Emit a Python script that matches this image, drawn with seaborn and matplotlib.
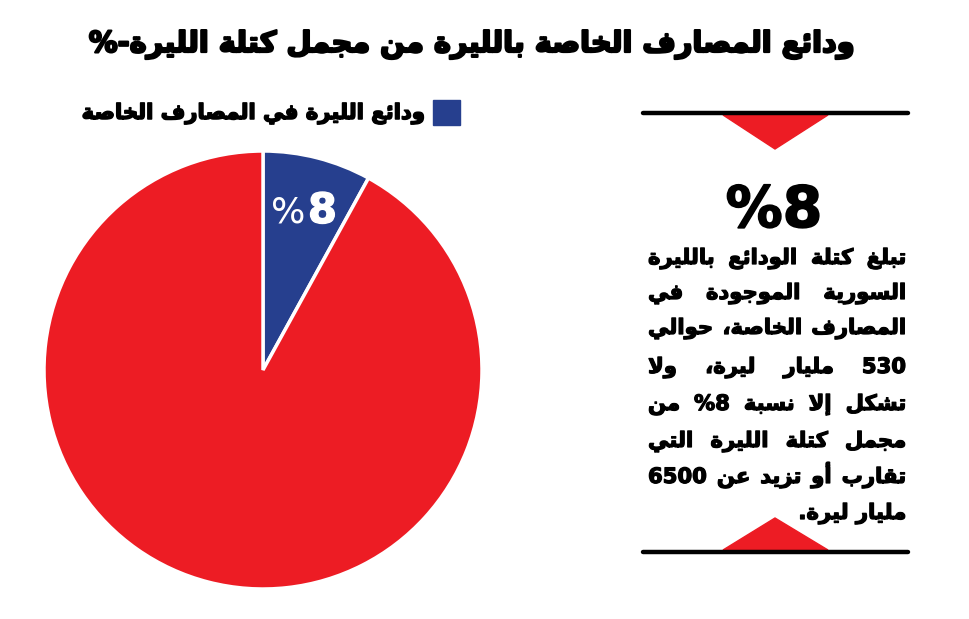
import re
import numpy as np
import pandas as pd
import matplotlib
matplotlib.use("Agg")
import matplotlib.pyplot as plt
import matplotlib.patheffects as pe
import seaborn as sns
from matplotlib.patches import Polygon

# ---------------- data ----------------
title = "ودائع المصارف الخاصة بالليرة من مجمل كتلة الليرة-%"
legend_label = "ودائع الليرة في المصارف الخاصة"
categories = ["ودائع الليرة في المصارف الخاصة", "باقي كتلة الليرة"]
shares = [8, 92]
slice_label_num = "8"
highlight = "8%"
body_lines = [
    "تبلغ كتلة الودائع بالليرة",
    "السورية الموجودة في",
    "المصارف الخاصة، حوالي",
    "530 مليار ليرة، ولا",
    "تشكل إلا نسبة 8% من",
    "مجمل كتلة الليرة التي",
    "تقارب أو تزيد عن 6500",
    "مليار ليرة.",
]

BLUE = "#263f8e"
RED = "#ed1c24"

# ---------------- minimal Arabic shaping + RTL ordering ----------------
DUAL = {'ئ': 0xFE89, 'ب': 0xFE8F, 'ت': 0xFE95, 'ث': 0xFE99, 'ج': 0xFE9D, 'ح': 0xFEA1,
        'خ': 0xFEA5, 'س': 0xFEB1, 'ش': 0xFEB5, 'ص': 0xFEB9, 'ض': 0xFEBD, 'ط': 0xFEC1,
        'ظ': 0xFEC5, 'ع': 0xFEC9, 'غ': 0xFECD, 'ف': 0xFED1, 'ق': 0xFED5, 'ك': 0xFED9,
        'ل': 0xFEDD, 'م': 0xFEE1, 'ن': 0xFEE5, 'ه': 0xFEE9, 'ي': 0xFEF1}
RIGHT = {'آ': 0xFE81, 'أ': 0xFE83, 'ؤ': 0xFE85, 'إ': 0xFE87, 'ا': 0xFE8D, 'ة': 0xFE93,
         'د': 0xFEA9, 'ذ': 0xFEAB, 'ر': 0xFEAD, 'ز': 0xFEAF, 'و': 0xFEED, 'ى': 0xFEEF}
ISO = {'ء': 0xFE80}
LAMALEF = {'ا': 0xFEFB, 'أ': 0xFEF7, 'إ': 0xFEF9, 'آ': 0xFEF5}


def shape(s):
    toks = []
    i = 0
    while i < len(s):
        c = s[i]
        if c == 'ل' and i + 1 < len(s) and s[i + 1] in LAMALEF:
            toks.append(('LA', s[i + 1]))
            i += 2
        else:
            toks.append(('C', c))
            i += 1

    def is_dual(t):
        return t[0] == 'C' and t[1] in DUAL

    def is_joining(t):
        return t[0] == 'LA' or t[1] in DUAL or t[1] in RIGHT

    out = []
    for k, t in enumerate(toks):
        prev = toks[k - 1] if k > 0 else None
        nxt = toks[k + 1] if k + 1 < len(toks) else None
        jp = prev is not None and is_dual(prev) and is_joining(t)
        jn = nxt is not None and is_dual(t) and is_joining(nxt)
        if t[0] == 'LA':
            out.append(chr(LAMALEF[t[1]] + (1 if jp else 0)))
        elif t[1] in DUAL:
            b = DUAL[t[1]]
            out.append(chr(b + (3 if (jp and jn) else 1 if jp else 2 if jn else 0)))
        elif t[1] in RIGHT:
            out.append(chr(RIGHT[t[1]] + (1 if jp else 0)))
        elif t[1] in ISO:
            out.append(chr(ISO[t[1]]))
        else:
            out.append(t[1])
    return ''.join(out)


def visual(s):
    r = shape(s)[::-1]
    return re.sub(r'[0-9]+', lambda m: m.group(0)[::-1], r)


# ---------------- figure ----------------
sns.set_theme(style="white")
plt.rcParams['font.family'] = ['DejaVu Sans']

W, H = 969, 619
fig = plt.figure(figsize=(W / 100, H / 100), dpi=100)
fig.patch.set_facecolor("white")
renderer = fig.canvas.get_renderer()


def fx(x):
    return x / W


def fy(y):
    return 1 - y / H


def heavy(lw, color='black'):
    return [pe.withStroke(linewidth=lw, foreground=color)]


def text_width(s, size, weight='bold'):
    t = fig.text(0, 0, s, fontsize=size, fontweight=weight)
    w = t.get_window_extent(renderer).width
    t.remove()
    return w


def fit_size(s, target_px, weight='bold'):
    return 20 * target_px / text_width(s, 20, weight)


# title
t_vis = visual(title)
t_size = fit_size(t_vis, 765)
fig.text(fx(471), fy(52), t_vis, fontsize=t_size, fontweight='bold',
         ha='center', va='baseline', color='black', path_effects=heavy(1.6))

# legend
l_vis = visual(legend_label)
l_size = fit_size(l_vis, 343)
fig.text(fx(424), fy(119), l_vis, fontsize=l_size, fontweight='bold',
         ha='right', va='baseline', color='black', path_effects=heavy(1.1))
fig.patches.append(plt.Rectangle((fx(433), fy(125)), 27 / W, 25 / H,
                                 transform=fig.transFigure, color=BLUE))

# pie
cx, cy, r = 263, 370, 219
ax = fig.add_axes([fx(cx - r), fy(cy + r), 2 * r / W, 2 * r / H])
palette = sns.color_palette([BLUE, RED])
wedges, _ = ax.pie(shares, colors=palette, startangle=90, counterclock=False,
                   radius=1, wedgeprops=dict(edgecolor='white', linewidth=2.5))
ax.set_xlim(-1.0, 1.0)
ax.set_ylim(-1.0, 1.0)
ax.set_aspect('equal')
ax.axis('off')

mid = np.deg2rad(90 - shares[0] / sum(shares) * 360 / 2)
lx, ly = 0.745 * np.cos(mid) + 0.02, 0.75 * np.sin(mid)
ax.text(lx - 0.01, ly - 0.005, "%", fontsize=26, fontweight='normal', color='white',
        ha='right', va='center')
ax.text(lx + 0.0, ly, slice_label_num, fontsize=30, fontweight='bold', color='white',
        ha='left', va='center', path_effects=heavy(1.0, 'white'))

# right panel: rules and triangles
x0, x1 = 643, 908
fig.lines.append(plt.Line2D([fx(x0), fx(x1)], [fy(113), fy(113)], transform=fig.transFigure,
                            color='black', linewidth=3.2))
fig.lines.append(plt.Line2D([fx(x0), fx(x1)], [fy(552), fy(552)], transform=fig.transFigure,
                            color='black', linewidth=3.2))
fig.patches.append(Polygon([(fx(723), fy(115)), (fx(828), fy(115)), (fx(775), fy(149))],
                           closed=True, transform=fig.transFigure, color=RED))
fig.patches.append(Polygon([(fx(723), fy(550)), (fx(828), fy(550)), (fx(775), fy(518))],
                           closed=True, transform=fig.transFigure, color=RED))

# big highlight number
fig.text(fx(774), fy(227), visual(highlight), fontsize=41, fontweight='bold',
         ha='center', va='baseline', color='black', path_effects=heavy(1.2))

# body text, justified RTL
baselines = [264, 299, 334, 373, 410, 447, 483, 519]
right_x, left_x = 906, 648
nat = []
for ln in body_lines:
    nat.append(text_width(visual(ln), 20))
b_size = min(18, 20 * (right_x - left_x - 4) / max(nat))
space_w = text_width("a a", b_size) - text_width("aa", b_size)

for i, (ln, yb) in enumerate(zip(body_lines, baselines)):
    words = [visual(w) for w in ln.split()]
    widths = [text_width(w, b_size) for w in words]
    last = i == len(body_lines) - 1
    if last or len(words) < 2:
        gap = space_w
    else:
        gap = (right_x - left_x - sum(widths)) / (len(words) - 1)
    x = right_x
    for w, wd in zip(words, widths):
        fig.text(fx(x), fy(yb), w, fontsize=b_size, fontweight='bold',
                 ha='right', va='baseline', color='black', path_effects=heavy(0.9))
        x -= wd + gap

fig.savefig("out.png", dpi=100, facecolor='white')
